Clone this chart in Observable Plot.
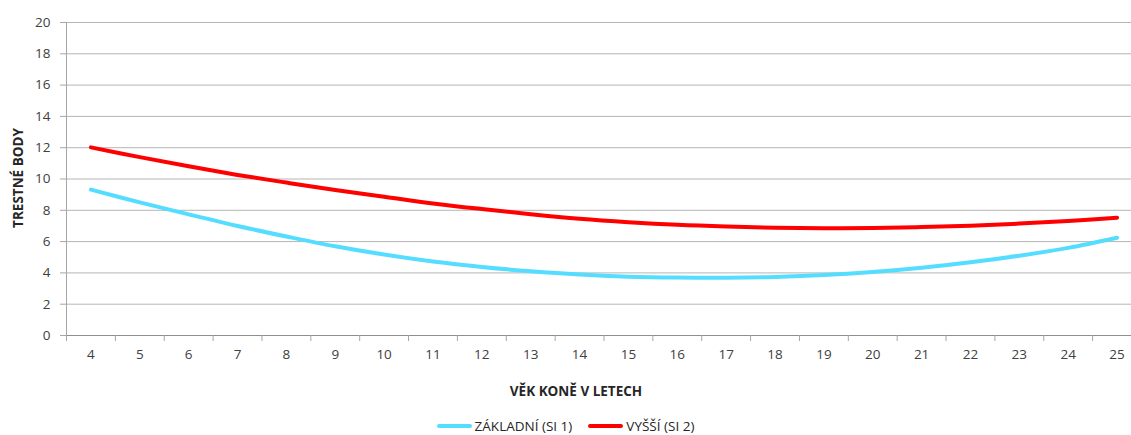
<!DOCTYPE html>
<html>
<head>
<meta charset="utf-8">
<script src="https://cdn.jsdelivr.net/npm/d3@7"></script>
<script src="https://cdn.jsdelivr.net/npm/@observablehq/plot@0.6"></script>
<style>
  html, body { margin: 0; padding: 0; background: #fff; overflow: hidden; }
  #wrap { position: relative; width: 1131px; height: 435px; font-family: "Open Sans", "Liberation Sans", sans-serif; color: #404040; }
  #ylabel { position: absolute; left: 18px; top: 178px; transform: translate(-50%, -50%) rotate(-90deg); font-weight: bold; font-size: 13.5px; white-space: nowrap; color: #262626; }
  #xlabel { position: absolute; left: 0; width: 1152px; top: 382px; text-align: center; font-weight: bold; font-size: 13.5px; color: #262626; }
  #legend { position: absolute; left: 0; width: 1131px; top: 417px; display: flex; justify-content: center; gap: 16px; font-size: 13.5px; color: #262626; }
  .item { display: flex; align-items: center; gap: 3px; }
  .sw { width: 35px; height: 4px; border-radius: 2px; }
</style>
</head>
<body>
<div id="wrap">
  <div id="chart"></div>
  <div id="ylabel">TRESTNÉ BODY</div>
  <div id="xlabel">VĚK KONĚ V LETECH</div>
  <div id="legend"></div>
</div>
<script>
// Age of the horse (years) and penalty points per level
const ages = [4, 5, 6, 7, 8, 9, 10, 11, 12, 13, 14, 15, 16, 17, 18, 19, 20, 21, 22, 23, 24, 25];
const zakladni = [9.32, 8.51, 7.74, 7.0, 6.33, 5.7, 5.17, 4.73, 4.38, 4.1, 3.89, 3.76, 3.7, 3.69, 3.74, 3.86, 4.06, 4.33, 4.68, 5.1, 5.6, 6.25];
const vyssi = [12.02, 11.4, 10.81, 10.26, 9.77, 9.3, 8.87, 8.44, 8.08, 7.75, 7.46, 7.24, 7.07, 6.96, 6.89, 6.86, 6.87, 6.93, 7.02, 7.15, 7.32, 7.53];
const seriesNames = ["ZÁKLADNÍ (SI 1)", "VYŠŠÍ (SI 2)"];
const seriesColors = ["#55ddff", "#ff0000"];
const yTicks = [0, 2, 4, 6, 8, 10, 12, 14, 16, 18, 20];

const data = [
  ...ages.map((a, i) => ({age: a, value: zakladni[i], series: seriesNames[0]})),
  ...ages.map((a, i) => ({age: a, value: vyssi[i], series: seriesNames[1]}))
];
// category boundaries for the tick marks between ages
const boundaries = ages.map(a => a - 0.5);

const chart = Plot.plot({
  width: 1131,
  height: 370,
  marginLeft: 66,
  marginRight: 0,
  marginTop: 22,
  marginBottom: 35,
  style: {fontFamily: "'Open Sans', 'Liberation Sans', sans-serif", fontSize: "13.5px", color: "#404040", overflow: "hidden"},
  x: {type: "linear", domain: [3.5, 25.5], range: [66, 1141]},
  y: {domain: [0, 20]},
  color: {domain: seriesNames, range: seriesColors},
  marks: [
    Plot.gridY(yTicks, {stroke: "#b5b5b5", strokeOpacity: 1, strokeWidth: 1}),
    Plot.axisY(yTicks, {tickSize: 6, tickPadding: 10, stroke: "#a6a6a6", label: null, fill: "#404040", fontSize: 13.5}),
    Plot.ruleX([3.5], {stroke: "#a6a6a6", y1: 0, y2: 20}),
    Plot.ruleY([0], {stroke: "#8f8f8f"}),
    Plot.axisX(boundaries, {tickSize: 6, stroke: "#a6a6a6", tickFormat: () => "", label: null}),
    Plot.axisX(ages, {tickSize: 0, tickPadding: 14, tickFormat: d => String(d), label: null, fill: "#404040", fontSize: 13.5}),
    Plot.line(data, {x: "age", y: "value", stroke: "series", curve: "catmull-rom", strokeWidth: 4, strokeLinecap: "round"})
  ]
});
document.getElementById("chart").appendChild(chart);

const legend = document.getElementById("legend");
seriesNames.forEach((name, i) => {
  const item = document.createElement("div");
  item.className = "item";
  const sw = document.createElement("div");
  sw.className = "sw";
  sw.style.background = seriesColors[i];
  const label = document.createElement("span");
  label.textContent = name;
  item.appendChild(sw);
  item.appendChild(label);
  legend.appendChild(item);
});
</script>
</body>
</html>
